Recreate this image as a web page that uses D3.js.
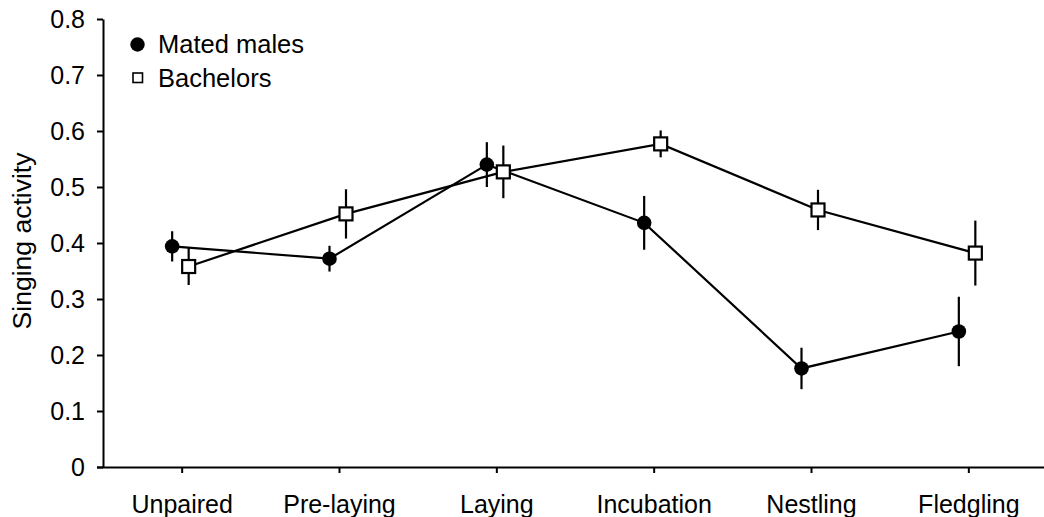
<!DOCTYPE html>
<html><head><meta charset="utf-8">
<script src="https://cdn.jsdelivr.net/npm/d3@7"></script>
<style>
html,body{margin:0;padding:0;background:#fff;}
text{font-family:"Liberation Sans",Arial,sans-serif;fill:#000;}
</style></head>
<body><svg id="c" width="1044" height="517"></svg>
<script>
const categories = ["Unpaired","Pre-laying","Laying","Incubation","Nestling","Fledgling"];
const matedValues = [0.394, 0.372, 0.540, 0.436, 0.176, 0.242];
const matedErrors = [0.027, 0.023, 0.040, 0.048, 0.037, 0.062];
const bachelorValues = [0.358, 0.452, 0.527, 0.577, 0.459, 0.382];
const bachelorErrors = [0.033, 0.044, 0.047, 0.024, 0.036, 0.058];
const yTicks = [0, 0.1, 0.2, 0.3, 0.4, 0.5, 0.6, 0.7, 0.8];
const seriesNames = ["Mated males", "Bachelors"];

const svg = d3.select("#c");
const x = d3.scalePoint().domain(categories).range([103, 1047]).padding(0.5);
const y = d3.scaleLinear().domain([0, 0.8]).range([467, 19]);

// axes
const yAxis = svg.append("g").attr("transform","translate(103,0)")
  .call(d3.axisLeft(y).tickValues(yTicks).tickSize(6).tickSizeOuter(0).tickPadding(12)
        .tickFormat(d => d === 0 ? "0" : d3.format(".1f")(d)));
yAxis.selectAll("path,line").attr("stroke","#000").attr("stroke-width",2);
yAxis.selectAll("text").attr("font-size",25).attr("font-family","Liberation Sans, Arial, sans-serif").attr("dy","0.35em");

const xAxis = svg.append("g").attr("transform","translate(0,467)")
  .call(d3.axisBottom(x).tickSize(6).tickSizeOuter(0).tickPadding(22));
xAxis.select("path.domain").attr("d","M97,0.5H1044");
xAxis.selectAll("path,line").attr("stroke","#000").attr("stroke-width",2);
xAxis.selectAll("text").attr("font-size",25).attr("font-family","Liberation Sans, Arial, sans-serif");

svg.append("text").attr("transform","translate(31,241) rotate(-90)")
  .attr("text-anchor","middle").attr("font-size",26.5).text("Singing activity");

const offM = -9.5, offB = 7;
const mated = categories.map((c,i)=>({c, v:matedValues[i], e:matedErrors[i], x:x(c)+offM}));
const bach = categories.map((c,i)=>({c, v:bachelorValues[i], e:bachelorErrors[i], x:x(c)+offB}));

const line = d3.line().x(d=>d.x).y(d=>y(d.v));
[mated, bach].forEach(s=>{
  svg.append("path").datum(s).attr("d",line).attr("fill","none").attr("stroke","#000").attr("stroke-width",2.2);
  svg.append("g").selectAll("line").data(s).join("line")
    .attr("x1",d=>d.x).attr("x2",d=>d.x).attr("y1",d=>y(d.v-d.e)).attr("y2",d=>y(d.v+d.e))
    .attr("stroke","#000").attr("stroke-width",2.2);
});
svg.append("g").selectAll("circle").data(mated).join("circle")
  .attr("cx",d=>d.x).attr("cy",d=>y(d.v)).attr("r",7.3).attr("fill","#000");
svg.append("g").selectAll("rect").data(bach).join("rect")
  .attr("x",d=>d.x-6.5).attr("y",d=>y(d.v)-6.5).attr("width",13).attr("height",13)
  .attr("fill","#fff").attr("stroke","#000").attr("stroke-width",2.2);

// legend
svg.append("circle").attr("cx",137.5).attr("cy",44.5).attr("r",7.2).attr("fill","#000");
svg.append("rect").attr("x",133).attr("y",73).attr("width",9.5).attr("height",9.5)
  .attr("fill","#fff").attr("stroke","#000").attr("stroke-width",1.6);
svg.append("text").attr("x",158).attr("y",53).attr("font-size",25.5).text(seriesNames[0]);
svg.append("text").attr("x",158).attr("y",87).attr("font-size",25.5).text(seriesNames[1]);
</script></body></html>
